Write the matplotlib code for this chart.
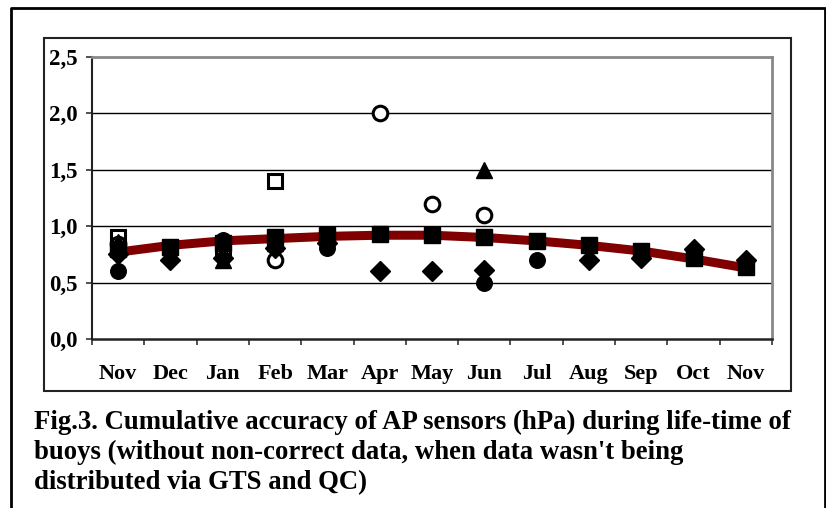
import numpy as np
import matplotlib
matplotlib.use("Agg")
import matplotlib.pyplot as plt
from matplotlib.lines import Line2D
from matplotlib.patches import Rectangle

nan = np.nan
months = ['Nov', 'Dec', 'Jan', 'Feb', 'Mar', 'Apr', 'May', 'Jun', 'Jul', 'Aug', 'Sep', 'Oct', 'Nov']
trend = [0.77, 0.83, 0.87, 0.89, 0.91, 0.92, 0.92, 0.90, 0.87, 0.83, 0.78, 0.71, 0.63]
open_square = [0.90, nan, 0.79, 1.40, nan, nan, nan, nan, nan, nan, nan, nan, nan]
filled_square = [0.80, 0.82, 0.85, 0.90, 0.92, 0.93, 0.92, 0.90, 0.87, 0.83, 0.78, 0.72, 0.64]
triangle = [0.86, 0.76, 0.70, 0.85, nan, nan, nan, 1.50, nan, nan, nan, 0.77, 0.67]
diamond = [0.75, 0.70, 0.72, 0.81, 0.85, 0.60, 0.60, 0.61, nan, 0.70, 0.72, 0.80, 0.70]
circle = [0.60, 0.78, 0.88, nan, 0.81, nan, nan, 0.50, 0.70, nan, 0.75, 0.74, nan]
open_circle = [0.84, nan, nan, 0.70, nan, 2.00, 1.20, 1.10, nan, nan, nan, nan, nan]
yticks = [0.0, 0.5, 1.0, 1.5, 2.0, 2.5]
caption = ("Fig.3. Cumulative accuracy of AP sensors (hPa) during life-time of\n"
           "buoys (without non-correct data, when data wasn't being\n"
           "distributed via GTS and QC)")

plt.rcParams['font.family'] = ['Liberation Serif', 'DejaVu Serif']
plt.rcParams['font.weight'] = 'bold'

W, H = 826, 508
fig = plt.figure(figsize=(W / 100, H / 100), dpi=100)
ax = fig.add_axes([92 / W, 1 - 339 / H, 680 / W, 282 / H])

x = np.arange(len(months))
ms = 11.2
ax.plot(x, open_square, ls='none', marker='s', ms=ms - 0.7, mfc='white', mec='black', mew=2.2, zorder=3)
ax.plot(x, trend, color='#800000', lw=6.5, solid_capstyle='butt', zorder=2)
ax.plot(x, filled_square, ls='none', marker='s', ms=ms, mfc='black', mec='black', zorder=4)
ax.plot(x, triangle, ls='none', marker='^', ms=ms, mfc='black', mec='black', zorder=5)
ax.plot(x, diamond, ls='none', marker='D', ms=ms - 1.5, mfc='black', mec='black', zorder=5)
ax.plot(x, circle, ls='none', marker='o', ms=ms, mfc='black', mec='black', zorder=5)
ax.plot(x, open_circle, ls='none', marker='o', ms=ms - 0.7, mfc='white', mec='black', mew=2.2, zorder=3)

ax.set_xlim(-0.5, len(months) - 0.5)
ax.set_ylim(0, 2.5)
ax.set_yticks(yticks)
ax.set_yticklabels([f"{v:.1f}".replace('.', ',') for v in yticks], fontsize=16.5, fontweight='bold')
ax.set_xticks(x)
ax.set_xticklabels(months, fontsize=16, fontweight='bold')
ax.set_xticks(np.arange(-0.5, len(months)), minor=True)
ax.tick_params(axis='x', which='major', length=0, pad=18)
ax.tick_params(axis='x', which='minor', length=4.5, width=1.2, direction='out', color='#333333')
ax.tick_params(axis='y', length=4.5, width=1.2, direction='out', pad=6, color='#333333')

for v in yticks[1:-1]:
    ax.axhline(v, color='black', lw=1, zorder=1)

ax.spines['left'].set_color('#222222')
ax.spines['left'].set_linewidth(1.5)
ax.spines['bottom'].set_color('#222222')
ax.spines['bottom'].set_linewidth(1.8)
ax.spines['top'].set_color('#888888')
ax.spines['top'].set_linewidth(2)
ax.spines['right'].set_color('#888888')
ax.spines['right'].set_linewidth(2)

# inner chart box
fig.add_artist(Rectangle((44 / W, 1 - 391 / H), (791 - 44) / W, (391 - 38) / H,
                         transform=fig.transFigure, fill=False, ec='#222222', lw=1.5))
# outer frame (left, top, right)
fig.add_artist(Line2D([11 / W, 11 / W, 825 / W, 825 / W], [0, 1 - 8 / H, 1 - 8 / H, 0],
                      transform=fig.transFigure, color='black', lw=2))

fig.text(34 / W, 1 - 410 / H, caption, ha='left', va='top', fontsize=19.3,
         fontweight='bold', linespacing=1.25)

fig.savefig('out.png', dpi=100)
